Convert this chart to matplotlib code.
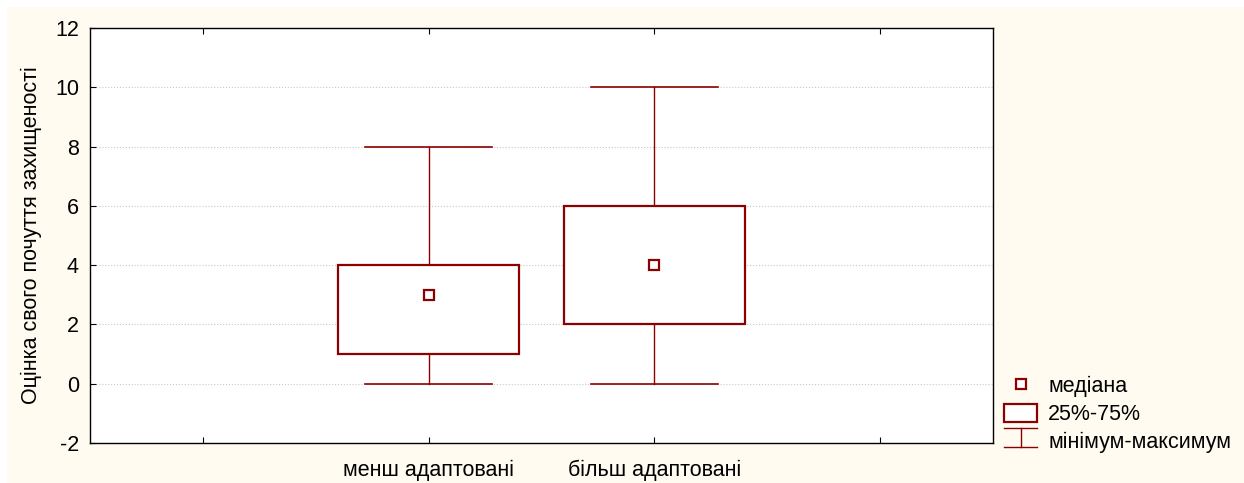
import numpy as np
import matplotlib
matplotlib.use("Agg")
import matplotlib.pyplot as plt
from matplotlib.patches import Rectangle
from matplotlib.lines import Line2D
from matplotlib.legend_handler import HandlerBase

plt.rcParams['font.family'] = ['Liberation Sans', 'DejaVu Sans']
plt.rcParams['axes.unicode_minus'] = False

categories = ['менш адаптовані', 'більш адаптовані']
medians = [3, 4]
q25 = [1, 2]
q75 = [4, 6]
mins = [0, 0]
maxs = [8, 10]

col = '#8b0000'
positions = np.array([1, 2])
box_w = 0.8
cap_w = 0.56
W, H = 1244, 483


class WhiskerHandler(HandlerBase):
    def create_artists(self, legend, orig, x0, y0, width, height, fontsize, trans):
        cx = x0 + width / 2
        cy = y0 + height / 2
        top = cy + 7
        bot = cy - 7
        lines = [
            Line2D([x0, x0 + width], [top, top]),
            Line2D([x0, x0 + width], [bot, bot]),
            Line2D([cx, cx], [bot, top]),
        ]
        for ln in lines:
            ln.set_color(col)
            ln.set_linewidth(1.0)
            ln.set_transform(trans)
        return lines


fig = plt.figure(figsize=(W / 100, H / 100), dpi=100, facecolor='white')
fig.patches.append(Rectangle((7 / W, 0), 1, 1 - 7 / H, transform=fig.transFigure,
                             facecolor='#fffbf0', edgecolor='none', zorder=-10))
ax = fig.add_axes([90 / W, 40 / H, 903 / W, 415 / H])

for x, md, lo, hi, mn, mx in zip(positions, medians, q25, q75, mins, maxs):
    ax.add_patch(Rectangle((x - box_w / 2, lo), box_w, hi - lo,
                           facecolor='white', edgecolor=col, lw=1.6, zorder=3))
    ax.plot([x, x], [hi, mx], color=col, lw=1.0, zorder=2)
    ax.plot([x, x], [mn, lo], color=col, lw=1.0, zorder=2)
    ax.plot([x - cap_w / 2, x + cap_w / 2], [mx, mx], color=col, lw=1.2, zorder=2)
    ax.plot([x - cap_w / 2, x + cap_w / 2], [mn, mn], color=col, lw=1.2, zorder=2)
    ax.plot(x, md, marker='s', ms=7.5, mfc='white', mec=col, mew=1.6,
            linestyle='none', zorder=4)

ax.set_xlim(-0.5, 3.5)
ax.set_ylim(-2, 12)
ax.set_yticks(np.arange(-2, 13, 2))
ax.set_xticks([0, 1, 2, 3])
ax.set_xticklabels([''] + categories + [''])
ax.tick_params(axis='both', direction='in', length=4, labelsize=15.5, top=True)
ax.tick_params(axis='x', pad=12)
ax.tick_params(axis='y', pad=8)
ax.grid(axis='y', color='#c8c8c8', linestyle=':', linewidth=0.8, zorder=0)
ax.set_ylabel('Оцінка свого почуття захищеності', fontsize=15.5, labelpad=9)
for sp in ax.spines.values():
    sp.set_linewidth(1.0)

h_med = Line2D([], [], marker='s', ms=7.5, mfc='white', mec=col, mew=1.6, linestyle='none')
h_box = Rectangle((0, 0), 1, 1, facecolor='white', edgecolor=col, lw=1.6)
h_wh = Line2D([], [])
fig.legend([h_med, h_box, h_wh], ['медіана', '25%-75%', 'мінімум-максимум'],
           handler_map={h_wh: WhiskerHandler()},
           loc='upper left', bbox_to_anchor=(1004 / W, 1 - 376 / H),
           frameon=False, fontsize=15.5, handlelength=1.55, handleheight=0.9,
           labelspacing=0.3, handletextpad=0.5, borderaxespad=0, borderpad=0)

fig.savefig('out.png', dpi=100, facecolor=fig.get_facecolor())
